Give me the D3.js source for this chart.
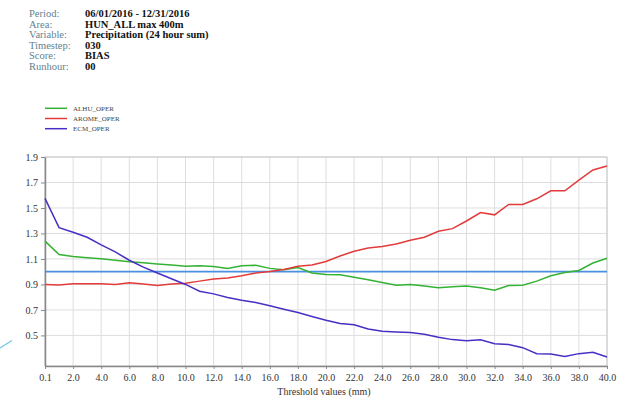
<!DOCTYPE html>
<html>
<head>
<meta charset="utf-8">
<script src="https://cdn.jsdelivr.net/npm/d3@7"></script>
<style>
  body { margin: 0; background: #fff; }
  svg { display: block; font-family: "Liberation Serif", "DejaVu Serif", serif; }
</style>
</head>
<body>
<div id="chart"></div>
<script>
// header info
const infoLabels = ["Period:", "Area:", "Variable:", "Timestep:", "Score:", "Runhour:"];
const infoValues = ["06/01/2016 - 12/31/2016", "HUN_ALL max 400m", "Precipitation (24 hour sum)", "030", "BIAS", "00"];

// thresholds (mm)
const thresholds = [0.1, 1, 2, 3, 4, 5, 6, 7, 8, 9, 10, 11, 12, 13, 14, 15, 16, 17, 18, 19, 20,
  21, 22, 23, 24, 25, 26, 27, 28, 29, 30, 31, 32, 33, 34, 35, 36, 37, 38, 39, 40];
const tickLabels = ["0.1", "2.0", "4.0", "6.0", "8.0", "10.0", "12.0", "14.0", "16.0", "18.0", "20.0",
  "22.0", "24.0", "26.0", "28.0", "30.0", "32.0", "34.0", "36.0", "38.0", "40.0"];
const yTicks = [0.5, 0.7, 0.9, 1.1, 1.3, 1.5, 1.7, 1.9];

const alhu = [1.24, 1.134, 1.12, 1.11, 1.102, 1.09, 1.078, 1.07, 1.06, 1.052, 1.042, 1.047, 1.04, 1.026,
  1.047, 1.05, 1.026, 1.016, 1.032, 0.99, 0.978, 0.976, 0.957, 0.937, 0.916, 0.894, 0.9, 0.887, 0.874,
  0.882, 0.887, 0.874, 0.855, 0.892, 0.894, 0.926, 0.968, 0.994, 1.01, 1.068, 1.105];
const arome = [0.9, 0.895, 0.905, 0.905, 0.905, 0.9, 0.913, 0.903, 0.892, 0.903, 0.91, 0.926, 0.942, 0.95,
  0.968, 0.989, 1.002, 1.018, 1.042, 1.052, 1.08, 1.123, 1.16, 1.186, 1.197, 1.217, 1.246, 1.27, 1.317,
  1.338, 1.398, 1.464, 1.446, 1.528, 1.528, 1.572, 1.635, 1.635, 1.719, 1.798, 1.83];
const ecm = [1.575, 1.346, 1.31, 1.27, 1.21, 1.155, 1.09, 1.036, 0.99, 0.945, 0.9, 0.847, 0.826, 0.797,
  0.776, 0.758, 0.732, 0.705, 0.68, 0.649, 0.619, 0.593, 0.583, 0.551, 0.532, 0.527, 0.522, 0.509, 0.485,
  0.467, 0.459, 0.465, 0.435, 0.428, 0.404, 0.357, 0.354, 0.335, 0.357, 0.367, 0.33];

const seriesNames = ["ALHU_OPER", "AROME_OPER", "ECM_OPER"];
const seriesColors = ["#33b233", "#e23b3b", "#4a2ec4"];
const seriesData = [alhu, arome, ecm];
const refValue = 1.0;

const W = 628, H = 398;
const margin = {top: 157, right: 21, bottom: 32, left: 45};
const width = W - margin.left - margin.right;
const height = H - margin.top - margin.bottom;

const svg = d3.select("#chart").append("svg")
  .attr("width", W)
  .attr("height", H);

// header block
const info = svg.append("g").attr("class", "info");
infoLabels.forEach((lab, i) => {
  info.append("text")
    .attr("x", 29).attr("y", 17 + i * 10.5)
    .style("font-size", "10.5px")
    .style("fill", "#5f8290")
    .text(lab);
  info.append("text")
    .attr("x", 85).attr("y", 17 + i * 10.5)
    .style("font-size", "10.5px")
    .style("font-weight", "bold")
    .style("fill", "#111")
    .text(infoValues[i]);
});

// legend
const legend = svg.append("g").attr("class", "legend");
seriesNames.forEach((name, i) => {
  const y = 108.3 + i * 10.2;
  legend.append("line")
    .attr("x1", 45).attr("x2", 67).attr("y1", y).attr("y2", y)
    .attr("stroke", seriesColors[i]).attr("stroke-width", 1.5);
  legend.append("text")
    .attr("x", 73).attr("y", y + 2.5)
    .style("font-size", "7px")
    .style("fill", "#444")
    .text(name);
});

// stray mark at left edge
svg.append("line")
  .attr("x1", 0).attr("y1", 348).attr("x2", 12).attr("y2", 340.5)
  .attr("stroke", "#70c8ea").attr("stroke-width", 1.2);

const g = svg.append("g")
  .attr("transform", "translate(" + margin.left + "," + margin.top + ")");

const xScale = d3.scalePoint().domain(thresholds.map(String)).range([0, width]);
const yScale = d3.scaleLinear().domain([0.26, 1.9]).range([height, 0]);

const tickValues = thresholds.filter((t, i) => i % 2 === 0).map(String);

// grid
g.append("g").selectAll("line.vg")
  .data(tickValues)
  .join("line")
  .attr("x1", d => xScale(d)).attr("x2", d => xScale(d))
  .attr("y1", 0).attr("y2", height)
  .attr("stroke", "#dedede");
g.append("g").selectAll("line.hg")
  .data(yTicks)
  .join("line")
  .attr("x1", 0).attr("x2", width)
  .attr("y1", d => yScale(d)).attr("y2", d => yScale(d))
  .attr("stroke", "#dedede");

// frame
g.append("rect")
  .attr("width", width).attr("height", height)
  .attr("fill", "none").attr("stroke", "#c8c8c8");

// axes
const xAxis = g.append("g")
  .attr("transform", "translate(0," + height + ")")
  .call(d3.axisBottom(xScale).tickValues(tickValues)
    .tickFormat((d, i) => tickLabels[i]).tickSize(3).tickSizeOuter(0));
const yAxis = g.append("g")
  .call(d3.axisLeft(yScale).tickValues(yTicks).tickFormat(d3.format(".1f")).tickSize(4).tickSizeOuter(0));

[xAxis, yAxis].forEach(ax => {
  ax.select(".domain").attr("stroke", "#888").attr("stroke-width", 1.5);
  ax.selectAll(".tick line").attr("stroke", "#888");
  ax.selectAll("text")
    .style("font-family", "'Liberation Serif', 'DejaVu Serif', serif")
    .style("font-size", "10px")
    .style("fill", "#333");
});
xAxis.selectAll("text").attr("dy", "0.9em");

// x axis title
g.append("text")
  .attr("x", width / 2 - 2).attr("y", height + 29)
  .attr("text-anchor", "middle")
  .style("font-size", "10px")
  .style("fill", "#333")
  .text("Threshold values  (mm)");

// reference line
g.append("line")
  .attr("x1", 0).attr("x2", width)
  .attr("y1", yScale(refValue)).attr("y2", yScale(refValue))
  .attr("stroke", "#4a8fe0").attr("stroke-width", 1.8);

// series lines
const line = d3.line()
  .x((d, i) => xScale(String(thresholds[i])))
  .y(d => yScale(d));

g.append("g").selectAll("path.series")
  .data(seriesData)
  .join("path")
  .attr("class", "series")
  .attr("d", d => line(d))
  .attr("fill", "none")
  .attr("stroke", (d, i) => seriesColors[i])
  .attr("stroke-width", 1.5);
</script>
</body>
</html>
